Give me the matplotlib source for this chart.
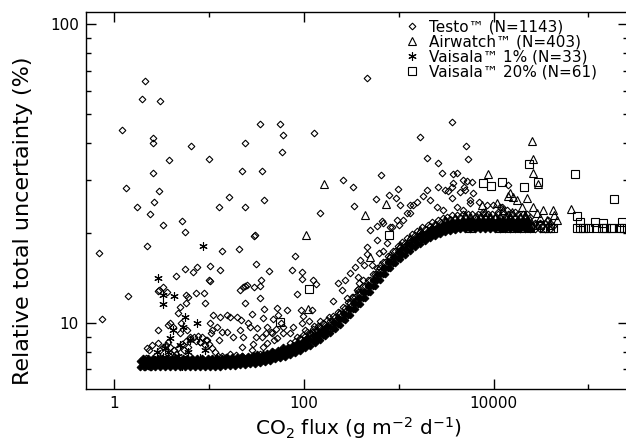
import matplotlib
matplotlib.use("Agg")
import matplotlib.pyplot as plt
from matplotlib.ticker import FixedLocator, NullFormatter, FuncFormatter

plt.rcParams['font.family'] = ['DejaVu Sans']

# ---------------- data ----------------
# Testo: scattered points above the dense band
testo_x = [2.11, 1.96, 3.03, 1.21, 2.56, 2.56, 6.43, 23.9, 3.77, 10.0, 22.2, 2.56, 1.33, 2.96, 16.2,
           58.7, 36.1, 2.63, 1.73, 2.38, 12.7, 23.9, 37.9, 5.18, 3.26, 5.56, 30.4, 0.69, 2.21, 13.6,
           20.6, 31.1, 42.7, 5.56, 7.44, 6.75, 10.2, 13.0, 4.47, 10.2, 3.26, 2.89, 1.39, 5.70, 7.27,
           8.82, 21.1, 23.9, 29.7, 34.4, 35.2, 34.4, 462, 34.4, 55.9, 60.1, 128, 258, 330, 650,
           1670, 1980, 2590, 2860, 148, 338, 575, 789, 981, 934, 29.7, 666, 589, 848, 1100,
           1310, 1410, 1800, 1980, 3630, 5110, 5360, 3720, 4100, 5240, 4870, 3630, 80.4, 74.7, 95.3,
           95.3, 125, 134, 229, 22.7, 25.1, 84.4, 23.9, 28.3, 37.9, 52.0, 66.2, 93.0, 97.7,
           47.2, 21.6, 27.0, 36.1, 29.0, 46.0, 60.1, 50.7, 60.1, 95.3, 113, 128, 122, 102,
           144, 183, 203, 284, 363, 372, 381, 473, 575, 462, 429, 522, 619, 681, 751,
           681, 1000, 363, 71.2, 76.6, 22.7, 22.2, 28.3, 37.0, 47.2, 60.1, 107, 141, 159, 188,
           2.96, 5.70, 9.04, 10.0, 122, 148, 16.6, 13.0, 11.0, 10.2, 8.0, 9.49, 6.28, 2.89, 4.15,
           2.50, 3.68, 4.93, 5.84, 12.1, 15.4, 17.8, 21.1, 25.7, 31.9, 40.7, 40.7, 52.0, 90.8, 116,
           138, 2.21, 2.01, 2.27, 0.745, 3.68, 4.70, 5.98, 10.5, 13.6, 37.0, 39.8, 53.2, 57.3, 44.9,
           31.1, 12.7, 48.3, 2.89, 2.32, 2.16, 2.06, 2.44, 5.05, 3070, 4420, 6060, 7010, 5630, 3630,
           9810, 12300, 13900, 11100, 7730, 16800, 4750, 5910, 8510, 11700, 14200, 2130, 1550, 1310, 2590,
           3300, 3720, 4990, 2530, 2920, 4100, 4750, 5630, 1030, 1220, 957, 808, 497, 462, 589,
           390, 346, 306, 271, 252, 321, 372, 419, 3.59, 4.93, 3.86, 10.7, 15.4, 19.6,
           27300, 30600, 34800, 39000, 27300, 30600, 34800, 39000, 28900, 32700, 37000, 41800]
testo_y = [64.6, 56.2, 55.4, 44.3, 41.6, 40.0, 39.1, 40.0, 35.1, 35.4, 32.3, 31.8, 28.3, 27.7, 26.4,
           37.4, 32.3, 25.4, 24.5, 23.2, 24.5, 24.5, 25.8, 21.9, 21.3, 20.2, 19.7, 17.2, 18.1, 17.4,
           17.7, 15.8, 14.9, 15.2, 15.4, 14.8, 15.5, 15.0, 14.4, 13.8, 13.2, 12.8, 12.3, 12.4, 12.6,
           12.6, 12.9, 13.3, 13.2, 13.3, 13.9, 12.1, 66.1, 46.4, 46.4, 42.6, 43.2, 30.1, 28.5, 31.3,
           41.9, 35.7, 34.3, 31.8, 23.3, 24.6, 26.0, 26.8, 28.1, 26.2, 19.5, 21.9, 21.1, 21.0, 22.1,
           23.3, 24.8, 26.6, 27.9, 47.1, 39.1, 35.4, 31.5, 31.8, 29.9, 28.5, 28.5, 16.8, 15.0, 14.8,
           14.0, 13.9, 13.5, 13.6, 13.2, 13.4, 12.5, 11.7, 10.7, 11.1, 11.2, 11.05, 11.05, 10.56,
           10.3, 10.23, 9.70, 8.98, 8.51, 9.26, 9.70, 9.54, 9.26, 10.0, 10.15, 9.77, 9.33, 9.47,
           9.70, 10.48, 11.85, 12.1, 12.9, 14.3, 13.6, 13.4, 14.4, 17.0, 15.6, 15.6, 17.2, 17.4, 18.5,
           21.6, 21.3, 11.9, 9.26, 9.70, 8.98, 8.31, 8.12, 8.31, 8.00, 8.31, 8.91, 9.12, 9.47, 9.47,
           12.9, 11.7, 11.7, 13.9, 11.05, 10.15, 10.5, 10.5, 10.6, 10.0, 8.64, 8.77, 8.98, 9.47, 9.70,
           8.44, 8.64, 9.26, 9.47, 9.70, 9.33, 8.98, 9.47, 10.0, 9.62, 9.70, 8.57, 8.91, 8.91, 9.26,
           9.47, 8.25, 7.52, 7.15, 10.3, 9.85, 10.8, 12.2, 9.26, 9.33, 10.4, 9.26, 10.6, 10.0, 9.33,
           8.98, 8.77, 8.77, 8.57, 8.12, 7.64, 7.12, 7.12, 10.0, 27.9, 27.5, 27.3, 25.4, 25.8, 26.2,
           24.8, 24.5, 23.9, 23.5, 23.5, 23.5, 30.1, 29.7, 24.8, 24.4, 29.0, 25.8, 25.4, 24.8, 28.5,
           27.7, 29.4, 27.9, 24.5, 23.9, 24.4, 23.9, 25.2, 24.8, 23.3, 22.1, 21.0, 20.5, 17.9, 19.0,
           16.3, 15.4, 14.7, 13.9, 12.9, 12.2, 13.0, 13.9, 12.7, 11.3, 10.0, 9.47, 10.6, 10.5,
           20.64, 20.64, 20.64, 20.64, 21.6, 21.6, 21.6, 21.6, 21.1, 21.1, 22.1, 21.1]

# Testo: dense low-flux cluster
cluster_x = [3.03, 3.26, 3.50, 3.86, 4.26, 4.70, 5.18, 5.70, 6.28, 6.92, 7.63, 8.40, 9.26, 10.0, 10.7,
             11.5, 5.43, 5.98, 9.04, 8.0, 7.26, 4.47, 4.05, 12.4, 13.6, 15.1, 16.6, 19.2, 22.2, 25.7,
             29.7, 34.4, 39.8, 46.0, 53.2, 61.6, 71.2, 82.4]
cluster_y = [8.12, 8.31, 8.44, 8.31, 8.12, 8.25, 8.51, 8.70, 8.84, 8.98, 9.05, 8.98, 8.77, 8.51, 8.25,
             8.00, 8.12, 8.31, 8.44, 8.64, 8.70, 7.87, 7.81, 7.75, 7.75, 7.69, 7.87, 7.81, 7.75, 7.69,
             7.75, 7.87, 7.81, 7.94, 8.00, 8.12, 8.25, 8.38]

# Testo: the dense band, read as rows from its lower edge upward
band_xa = [1.87, 2.11, 2.38, 2.69, 3.03, 3.42, 3.86, 4.36, 4.93, 5.56, 6.28, 7.09, 8.0, 9.04, 10.2,
           11.5, 13.0, 14.7, 16.6, 18.7, 21.1, 23.9, 27.0, 30.4, 34.4, 38.8, 43.8, 49.5, 55.9, 63.1,
           71.2, 80.4, 90.8, 102, 116, 131, 148, 167, 188, 213, 240, 271, 306, 346, 390,
           440, 497, 561, 634, 715, 808, 912, 1030, 1160, 1310, 1480, 1670, 1890, 2130, 2410,
           2720, 3070, 3460, 3910, 4420, 4990, 5630, 6360, 7180, 8110, 9150, 10300, 11700, 13200, 14900,
           16800, 18900, 21400, 24200]
band_xb = [1.99, 2.24, 2.53, 2.86, 3.22, 3.63, 4.10, 4.63, 5.24, 5.91, 6.67, 7.53, 8.50, 9.61, 10.8,
           12.2, 13.8, 15.6, 17.6, 19.9, 22.4, 25.4, 28.7, 32.3, 36.6, 41.2, 46.5, 52.6, 59.4, 67.1,
           75.7, 85.4, 96.5, 108, 123, 139, 157, 177, 200, 226, 255, 288, 325, 368, 415,
           468, 528, 596, 674, 760, 859, 969, 1090, 1230, 1390, 1570, 1770, 2010, 2260, 2560,
           2890, 3260, 3680, 4150, 4700, 5300, 5980, 6760, 7630, 8620, 9720, 11000, 12400, 14000, 15800,
           17900, 20200, 22700]
band_r0 = [7.12, 7.10, 7.13, 7.11, 7.12, 7.10, 7.13, 7.12, 7.11, 7.12, 7.13, 7.10, 7.12, 7.11, 7.12,
           7.13, 7.12, 7.15, 7.18, 7.18, 7.21, 7.24, 7.26, 7.29, 7.35, 7.40, 7.46, 7.55, 7.64, 7.72,
           7.81, 7.94, 8.06, 8.22, 8.38, 8.57, 8.77, 9.01, 9.26, 9.55, 9.85, 10.23, 10.64, 11.10, 11.58,
           12.13, 12.70, 13.30, 13.93, 14.59, 15.22, 15.82, 16.38, 16.89, 17.42, 17.90, 18.39, 18.82, 19.18, 19.56,
           19.86, 20.09, 20.32, 20.48, 20.56, 20.64, 20.64, 20.62, 20.64, 20.66, 20.64, 20.62, 20.64, 20.64, 20.66,
           20.64, 20.62, 20.64, 20.64]
band_r1 = [7.29, 7.28, 7.30, 7.29, 7.27, 7.29, 7.30, 7.29, 7.28, 7.29, 7.30, 7.29, 7.28, 7.29, 7.30,
           7.29, 7.30, 7.33, 7.35, 7.36, 7.39, 7.42, 7.45, 7.49, 7.54, 7.60, 7.68, 7.77, 7.86, 7.94,
           8.05, 8.19, 8.33, 8.49, 8.67, 8.87, 9.10, 9.34, 9.62, 9.93, 10.27, 10.67, 11.12, 11.61, 12.13,
           12.70, 13.30, 13.93, 14.59, 15.25, 15.88, 16.48, 17.02, 17.55, 18.07, 18.56, 19.04, 19.44, 19.82, 20.17,
           20.44, 20.67, 20.88, 21.00, 21.08, 21.12, 21.12, 21.10, 21.12, 21.14, 21.12, 21.10, 21.12, 21.12, 21.14,
           21.12, 21.10, 21.12]
band_r2 = [7.46, 7.45, 7.47, 7.46, 7.44, 7.46, 7.47, 7.46, 7.45, 7.46, 7.47, 7.46, 7.45, 7.46, 7.47,
           7.46, 7.46, 7.49, 7.52, 7.52, 7.55, 7.58, 7.60, 7.64, 7.70, 7.75, 7.81, 7.91, 8.00, 8.09,
           8.18, 8.32, 8.44, 8.61, 8.78, 8.98, 9.19, 9.44, 9.70, 10.00, 10.32, 10.71, 11.14, 11.63, 12.13,
           12.70, 13.30, 13.93, 14.59, 15.28, 15.94, 16.57, 17.16, 17.69, 18.25, 18.75, 19.26, 19.71, 20.09, 20.49,
           20.80, 21.04, 21.28, 21.45, 21.53, 21.62, 21.62, 21.60, 21.62, 21.64, 21.62, 21.60, 21.62, 21.62, 21.64,
           21.62, 21.60, 21.62, 21.62]
band_r3 = [7.63, 7.62, 7.64, 7.63, 7.61, 7.63, 7.64, 7.63, 7.62, 7.63, 7.64, 7.63, 7.62, 7.63, 7.64,
           7.63, 7.64, 7.67, 7.70, 7.71, 7.74, 7.77, 7.80, 7.85, 7.90, 7.96, 8.04, 8.13, 8.23, 8.32,
           8.44, 8.57, 8.72, 8.90, 9.08, 9.29, 9.53, 9.79, 10.07, 10.40, 10.76, 11.18, 11.65, 12.15, 12.70,
           13.30, 13.93, 14.59, 15.28, 15.97, 16.63, 17.26, 17.82, 18.38, 18.93, 19.44, 19.94, 20.36, 20.76, 21.13,
           21.40, 21.65, 21.86, 21.99, 22.08, 22.12, 22.12, 22.10, 22.12, 22.14, 22.12, 22.10, 22.12, 22.12, 22.14,
           22.12, 22.10, 22.12]
band_r4 = [8.57, 8.71, 8.84, 9.02, 9.19, 9.40, 9.62, 9.88, 10.16, 10.48, 10.80, 11.22, 11.67, 12.18, 12.70,
           13.31, 13.93, 14.59, 15.28, 16.00, 16.69, 17.35, 17.97, 18.53, 19.11, 19.63, 20.17, 20.64, 21.04, 21.46,
           21.78, 22.04, 22.29, 22.46, 22.55, 22.64, 22.64, 22.62, 22.64, 22.66, 22.64, 22.62, 22.64, 22.64, 22.66,
           22.64, 22.62, 22.64, 22.64]
band_r5 = [8.98, 9.14, 9.32, 9.51, 9.73, 9.98, 10.25, 10.55, 10.89, 11.27, 11.71, 12.20, 12.73, 13.30, 13.93,
           14.59, 15.28, 16.01, 16.73, 17.42, 18.07, 18.67, 19.25, 19.82, 20.36, 20.88, 21.33, 21.74, 22.13, 22.42,
           22.68, 22.90, 23.04, 23.13, 23.17, 23.17, 23.15, 23.17, 23.19, 23.17, 23.15, 23.17, 23.17, 23.19, 23.17,
           23.15, 23.17]

# Airwatch
air_x = [25400, 26000, 26000, 29100, 8720, 733, 440, 64800, 32900, 41900, 43300, 497, 14900, 17600, 22500,
         19800, 26000, 28700, 10800, 12600, 7540, 13900, 17600, 24200, 36500, 46600, 6680, 9150, 24200, 17600,
         12600, 105, 163, 110, 234, 3070, 3910, 4990, 5630, 8110, 10300, 15600, 21400, 30600, 39000,
         2410, 1670, 4420, 7180, 11700, 18900, 27300, 34800, 1310, 1030, 808, 634, 16000, 14200]
air_y = [40.7, 35.4, 31.8, 29.2, 31.5, 25.0, 23.0, 24.1, 23.9, 23.9, 23.0, 16.6, 27.3, 25.8, 26.2,
         24.5, 24.5, 23.3, 25.2, 23.9, 24.8, 22.6, 22.1, 22.1, 22.1, 22.1, 22.6, 22.6, 21.0, 21.0,
         21.0, 19.7, 29.2, 11.1, 10.8, 21.9, 22.5, 23.0, 21.9, 23.5, 22.5, 23.5, 23.0, 22.5, 21.3,
         21.3, 20.5, 21.3, 21.3, 21.9, 22.6, 21.3, 20.8, 19.3, 18.2, 16.9, 15.6, 26.4, 26.6]

# Vaisala 1%
v1_x = [2.89, 3.26, 4.24, 8.6, 3.26, 5.56, 7.44, 5.3, 3.86, 4.14, 3.42, 3.26, 3.65, 4.93, 6.28,
        3.03, 3.50, 5.56, 8.0, 10.2, 4.36, 7.09, 2.38, 2.69, 4.7, 5.98, 9.04, 2.11, 11.5, 3.86,
        2.82, 6.75, 5.18]
v1_y = [14.15, 12.41, 12.31, 18.1, 11.58, 10.47, 10.0, 9.70, 8.91, 9.47, 8.25, 7.69, 8.00, 8.44, 8.77,
        7.40, 7.24, 7.52, 7.64, 7.40, 7.24, 7.18, 7.24, 7.52, 7.77, 8.00, 8.12, 7.40, 7.24, 7.40,
        8.00, 7.52, 7.18]

# Vaisala 20%
v20_x = [23600, 29100, 71400, 187000, 20900, 12300, 7730, 9380, 789, 113, 55.9, 75000, 80500, 118000, 143000,
         227000, 34000, 42300, 75000, 80500, 86600, 90900, 102000, 121000, 140000, 147000, 154000, 174000, 179000, 211000,
         222000, 236000, 9150, 11700, 14900, 18900, 24200, 30600, 5630, 4420, 39000]
v20_y = [34.1, 29.7, 31.5, 26.0, 28.5, 29.7, 29.4, 28.7, 19.7, 13.0, 10.1, 22.8, 21.8, 21.8, 21.6,
         21.8, 20.8, 20.8, 20.8, 20.8, 20.8, 20.8, 20.8, 20.8, 20.8, 20.8, 20.8, 20.8, 20.8, 20.8,
         20.8, 20.8, 21.3, 20.8, 20.8, 20.8, 20.8, 21.3, 20.8, 21.1, 20.8]

labels = ["Testo\u2122 (N=1143)", "Airwatch\u2122 (N=403)",
          "Vaisala\u2122 1% (N=33)", "Vaisala\u2122 20% (N=61)"]

# ---------------- figure ----------------
W, H = 626, 444
fig = plt.figure(figsize=(W / 100, H / 100), dpi=100)
ax = fig.add_axes([86 / W, 55 / H, 542 / W, 377 / H])
ax.set_xscale('log')
ax.set_yscale('log')

common = dict(ls='none', mfc='none', mec='black', mew=0.8)
dia = dict(marker='D', ms=3.4, **common)
# the overlapping outlines of the dense band merge into solid black
dense = dict(marker='D', ms=3.4, ls='none', mfc='black', mec='black', mew=0.8)

h1, = ax.plot(testo_x, testo_y, label=labels[0], zorder=2, **dia)
ax.plot(cluster_x, cluster_y, zorder=2, **dia)
ax.plot(band_xa, band_r0, zorder=2, **dense)
ax.plot(band_xb, band_r1, zorder=2, **dense)
ax.plot(band_xa, band_r2, zorder=2, **dense)
ax.plot(band_xb, band_r3, zorder=2, **dense)
ax.plot(band_xa[30:], band_r4, zorder=2, **dia)
ax.plot(band_xb[31:], band_r5, zorder=2, **dia)
h2, = ax.plot(air_x, air_y, marker='^', ms=5.5, label=labels[1], zorder=3, **common)
h3, = ax.plot(v1_x, v1_y, marker=(6, 2, 0), ms=6, label=labels[2], zorder=4, **common)
h4, = ax.plot(v20_x, v20_y, marker='s', ms=5.2, label=labels[3], zorder=5, **common)

ax.set_xlim(0.503, 2.61e5)
ax.set_ylim(6.01, 109.9)

ax.xaxis.set_major_locator(FixedLocator([1, 100, 1e4, 1e6]))
ax.xaxis.set_minor_locator(FixedLocator([0.1, 10, 1000, 1e5]))
ax.yaxis.set_major_locator(FixedLocator([10, 100]))
ax.yaxis.set_minor_locator(FixedLocator([7, 8, 9, 20, 30, 40, 50, 60, 70, 80, 90]))
fmt = FuncFormatter(lambda v, p: f"{int(round(v))}")
ax.xaxis.set_major_formatter(fmt)
ax.yaxis.set_major_formatter(fmt)
ax.xaxis.set_minor_formatter(NullFormatter())
ax.yaxis.set_minor_formatter(NullFormatter())

ax.tick_params(which='both', direction='in', top=True, right=True, width=1.0, labelsize=11)
ax.tick_params(which='major', length=7, pad=5)
ax.tick_params(which='minor', length=3.8)
for s in ax.spines.values():
    s.set_linewidth(1.0)

ax.set_xlabel(r'CO$_2$ flux (g m$^{-2}$ d$^{-1}$)', fontsize=14.5)
ax.set_ylabel('Relative total uncertainty (%)', fontsize=16)
ax.xaxis.set_label_coords(0.503, -0.068)
ax.yaxis.set_label_coords(-0.098, 0.445)

ax.legend(handles=[h1, h2, h3, h4], loc='upper left', bbox_to_anchor=(0.586, 0.980),
          frameon=False, fontsize=11, handlelength=1.1, handletextpad=0.55,
          borderpad=0, borderaxespad=0, labelspacing=0.0, numpoints=1)

fig.savefig('out.png', dpi=100)
